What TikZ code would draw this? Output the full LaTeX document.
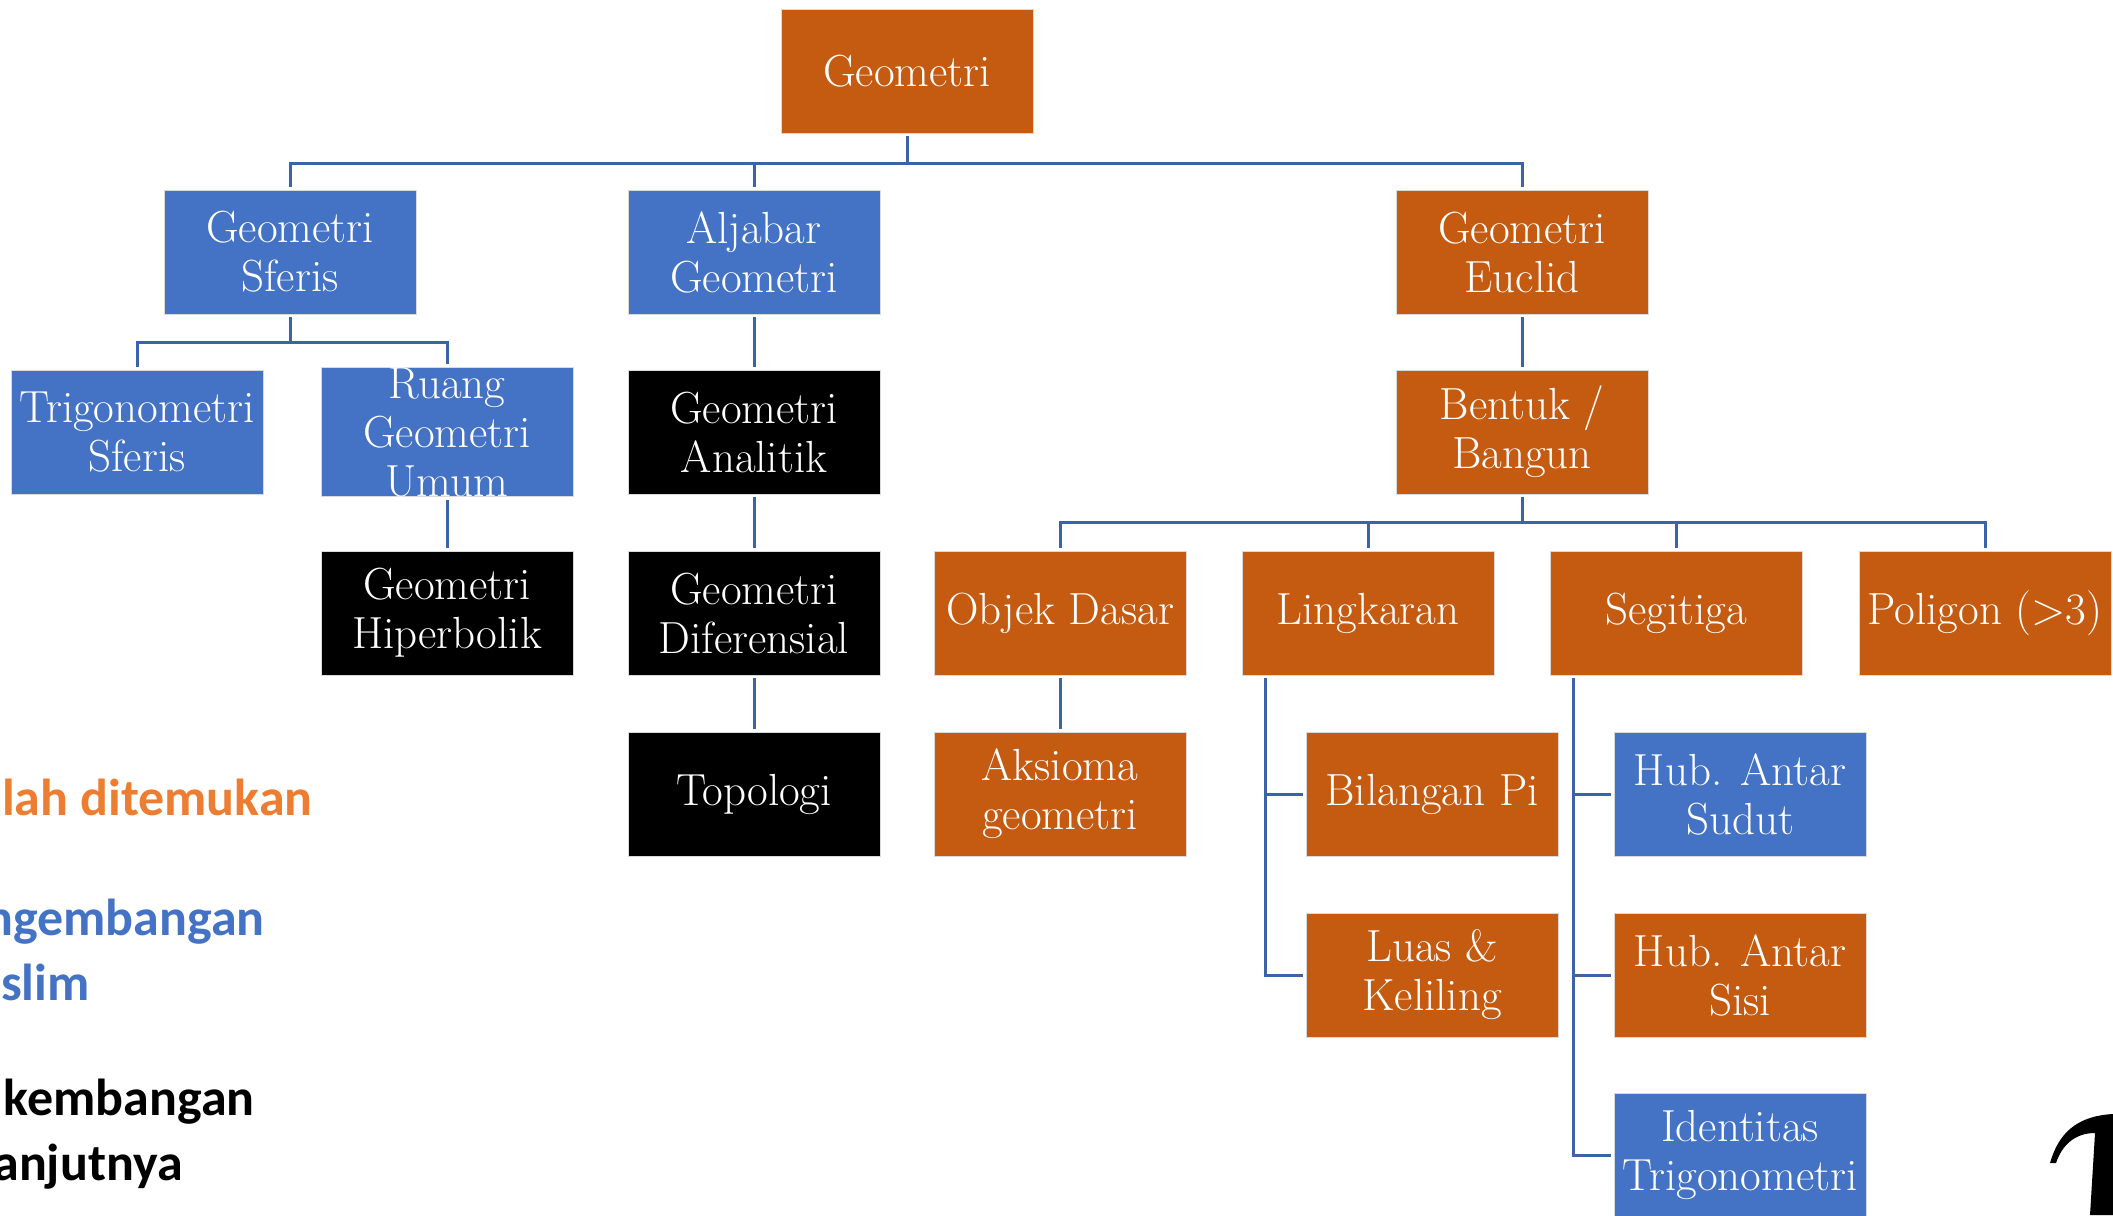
\documentclass[tikz,border=0pt]{standalone}
\usepackage{fontspec}
\newfontfamily\legendfont{Carlito}
\begin{document}
\begin{tikzpicture}[x=0.5pt,y=-0.5pt,
  box/.style={rectangle, minimum width=126pt, minimum height=62pt, inner sep=0pt,
    text=white, align=center, draw=white!85!black, line width=0.4pt,
    font=\fontsize{22.5}{24.5}\selectfont},
  orangebox/.style={box, fill=boxorange},
  bluebox/.style={box, fill=boxblue},
  blackbox/.style={box, fill=black},
  conn/.style={draw=linkblue, line width=1.5pt, shorten <=1.5pt, shorten >=1.5pt},
  legend/.style={anchor=base east, inner sep=0pt, font=\legendfont\bfseries\fontsize{26}{32}\selectfont}
]
\definecolor{boxorange}{HTML}{C55A11}
\definecolor{boxblue}{HTML}{4472C4}
\definecolor{linkblue}{HTML}{3C63AA}
\definecolor{legorange}{HTML}{ED7D31}

\useasboundingbox (0,0) rectangle (2113,1215);
\clip (0,0) rectangle (2113,1215);

% root
\node[orangebox] (geo) at (907,71) {Geometri};

% first level
\node[bluebox]   (sferis)  at (290,252)  {Geometri\\Sferis};
\node[bluebox]   (aljabar) at (754,252)  {Aljabar\\Geometri};
\node[orangebox] (euclid)  at (1522,252) {Geometri\\Euclid};

% second level
\node[bluebox]   (trig)     at (137,432)  {Trigonometri\\Sferis};
\node[bluebox]   (ruang)    at (447,432)  {Ruang\\Geometri\\Umum};
\node[blackbox]  (analitik) at (754,432)  {Geometri\\Analitik};
\node[orangebox] (bentuk)   at (1522,432) {Bentuk /\\Bangun};

% third level
\node[blackbox]  (hiper)  at (447,613)  {Geometri\\Hiperbolik};
\node[blackbox]  (difer)  at (754,613)  {Geometri\\Diferensial};
\node[orangebox] (objek)  at (1060,613) {Objek Dasar};
\node[orangebox] (lingk)  at (1368,613) {Lingkaran};
\node[orangebox] (segi)   at (1676,613) {Segitiga};
\node[orangebox] (poli)   at (1985,613) {Poligon (>3)};

% fourth level and below
\node[blackbox]  (topo)    at (754,794)  {Topologi};
\node[orangebox] (aksioma) at (1060,794) {Aksioma\\geometri};
\node[orangebox] (pi)      at (1432,794) {Bilangan Pi};
\node[orangebox] (luas)    at (1432,975) {Luas \&\\Keliling};
\node[bluebox]   (sudut)   at (1740,794) {Hub. Antar\\Sudut};
\node[orangebox] (sisi)    at (1740,975) {Hub. Antar\\Sisi};
\node[bluebox]   (ident)   at (1740,1155) {Identitas\\Trigonometri};

% connectors
\foreach \c in {sferis,aljabar,euclid}
  \draw[conn] (geo.south) -- ++(0,30) -| (\c.north);
\foreach \c in {trig,ruang}
  \draw[conn] (sferis.south) -- ++(0,28) -| (\c.north);
\foreach \c in {objek,lingk,segi,poli}
  \draw[conn] (bentuk.south) -- ++(0,28) -| (\c.north);
\draw[conn] (aljabar) -- (analitik);
\draw[conn] (analitik) -- (difer);
\draw[conn] (difer) -- (topo);
\draw[conn] (ruang) -- (hiper);
\draw[conn] (euclid) -- (bentuk);
\draw[conn] (objek) -- (aksioma);
\foreach \c in {pi,luas}
  \draw[conn] ([xshift=12pt]lingk.south west) |- (\c.west);
\foreach \c in {sudut,sisi,ident}
  \draw[conn] ([xshift=12pt]segi.south west) |- (\c.west);

% legend
\node[legend, text=legorange] (l1) at (313,815)  {lah ditemukan};
\node[legend, text=boxblue]   (l2) at (265,935)  {ngembangan};
\node[legend, text=boxblue]   (l3) at (90,1000)  {slim};
\node[legend, text=black]     (l4) at (255,1115) {kembangan};
\node[legend, text=black]     (l5) at (183,1180) {anjutnya};

% corner glyph
\fill[black] (2050,1163) .. controls (2058,1135) and (2075,1116) .. (2113,1114)
  -- (2113,1215) -- (2090,1215) -- (2095,1133)
  .. controls (2075,1133) and (2062,1145) .. (2056,1163) -- cycle;
\end{tikzpicture}
\end{document}
